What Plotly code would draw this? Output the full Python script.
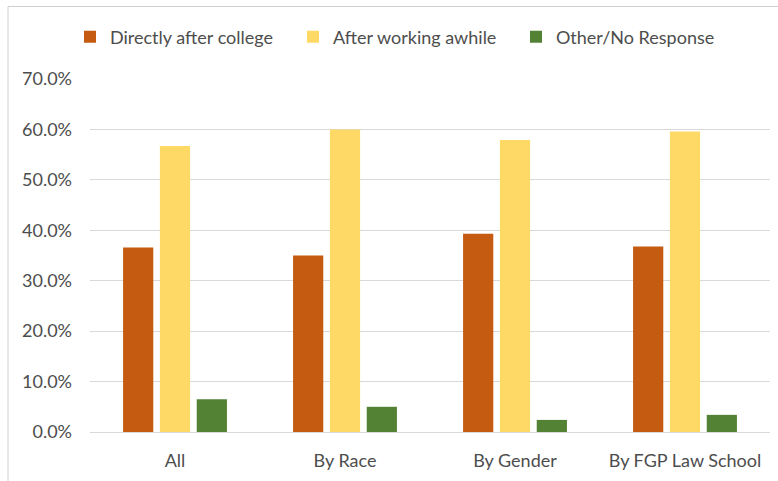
import plotly.graph_objects as go

categories = ["All", "By Race", "By Gender", "By FGP Law School"]
directly = [0.366, 0.350, 0.393, 0.368]
after_working = [0.567, 0.600, 0.579, 0.596]
other = [0.065, 0.050, 0.024, 0.034]
series_names = ["Directly after college", "After working awhile", "Other/No Response"]
colors = ["#C55A11", "#FFD966", "#548235"]

fig = go.Figure()
for name, vals, c in zip(series_names, [directly, after_working, other], colors):
    fig.add_trace(go.Bar(x=categories, y=vals, name=name, marker_color=c,
                         marker_line_width=0))

W, H = 778, 481
ml, mr, mt, mb = 90, 8, 79, 49
pw, ph = W - ml - mr, H - mt - mb

font = dict(family="Lato, Open Sans, sans-serif", size=18, color="#4d4d4d")

fig.update_layout(
    width=W, height=H,
    margin=dict(l=ml, r=mr, t=mt, b=mb),
    paper_bgcolor="white", plot_bgcolor="white",
    font=font,
    barmode="group", bargap=0.35, bargroupgap=0.18,
    showlegend=True,
    legend=dict(orientation="h", x=(70 - ml) / pw, xanchor="left",
                y=1 + (mt - 37) / ph, yanchor="middle",
                entrywidth=178, entrywidthmode="pixels",
                font=font, bgcolor="rgba(0,0,0,0)"),
    xaxis=dict(showgrid=False, showline=True, linecolor="#d9d9d9", linewidth=1,
               ticks="", ticklabelstandoff=12, tickfont=font),
    yaxis=dict(range=[0, 0.7], dtick=0.1, tickformat=".1%", showgrid=True,
               gridcolor="#d9d9d9", gridwidth=1, zeroline=False, showline=False,
               ticks="", ticklabelstandoff=17, tickfont=font),
)

# light frame of the chart area (top and left edges visible)
x_left = (8 - ml) / pw
y_top = (H - mb - 6.5) / ph
fig.add_shape(type="line", xref="paper", yref="paper", x0=x_left, x1=1.2,
              y0=y_top, y1=y_top, line=dict(color="#d0d0d0", width=1))
fig.add_shape(type="line", xref="paper", yref="paper", x0=x_left, x1=x_left,
              y0=-0.3, y1=y_top, line=dict(color="#d0d0d0", width=1))

fig.write_html("out.html", config={"displayModeBar": False},
               post_script="document.body.style.margin='0';document.body.style.overflow='hidden';")
